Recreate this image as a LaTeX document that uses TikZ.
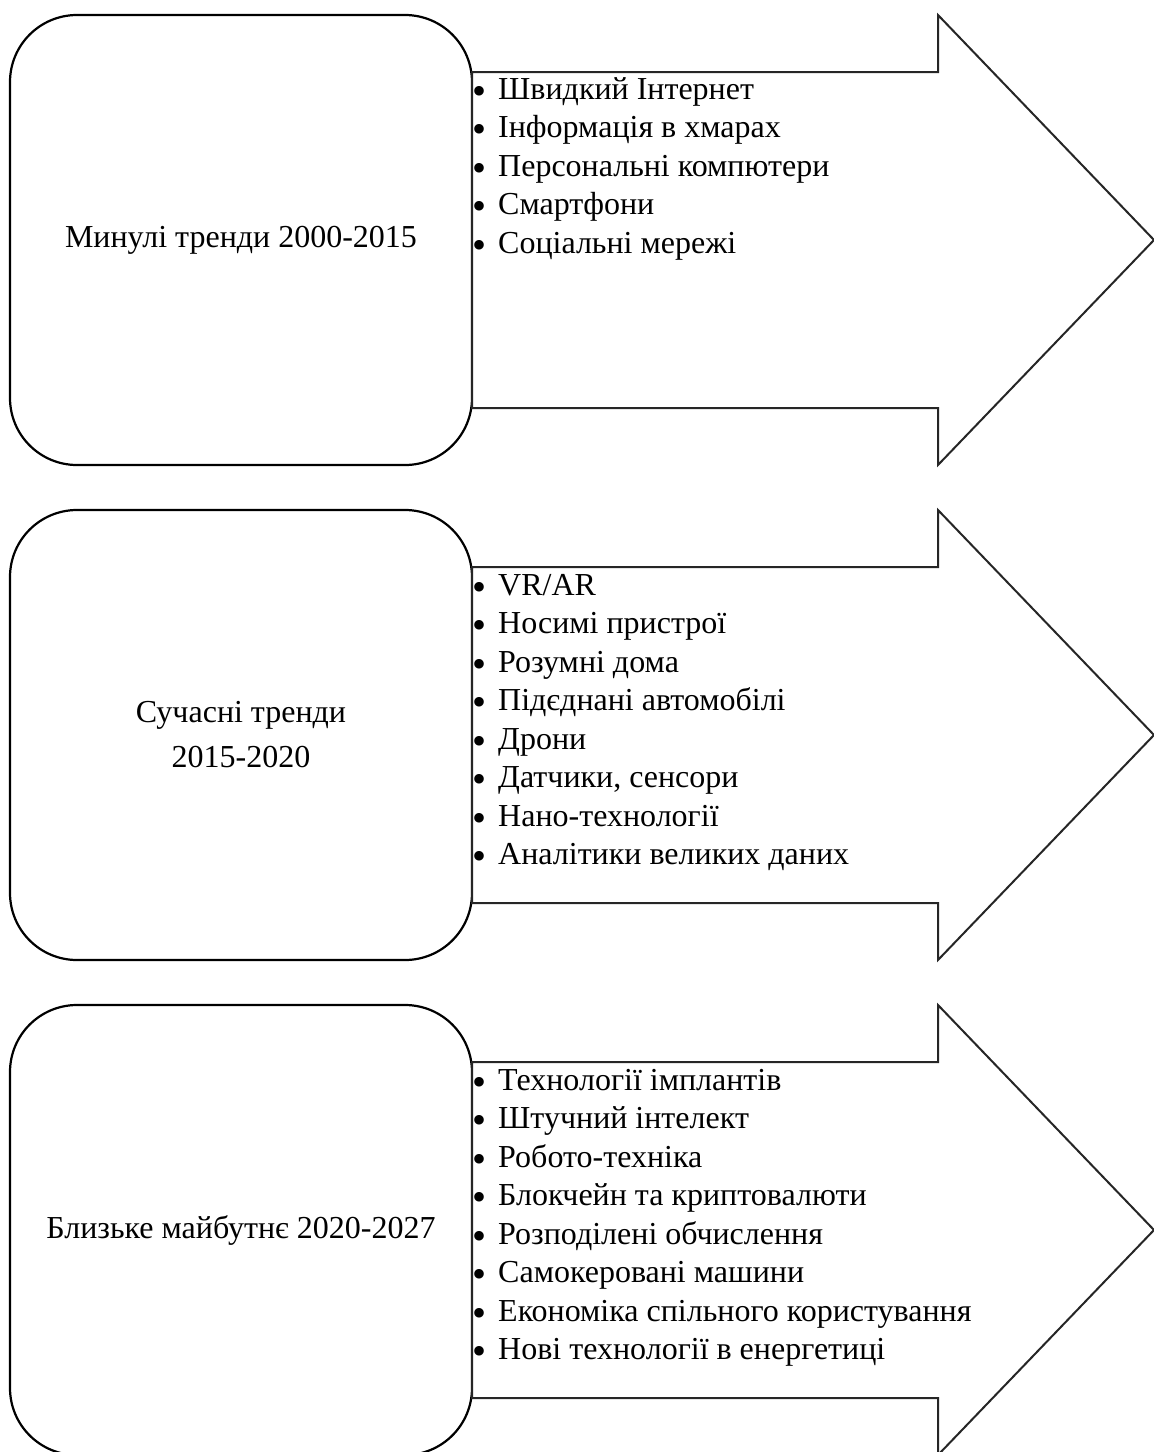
\documentclass[tikz,border=0pt]{standalone}
\usepackage{fontspec}
\setmainfont{Liberation Serif}
\newcommand{\bul}{\makebox[26pt][l]{\smash{\raisebox{-5pt}{\scalebox{1.25}{\textbullet}}}}}
\begin{document}
\begin{tikzpicture}[x=1pt, y=-1pt,
        period/.style={draw, rounded corners=67pt, line width=2.2pt, fill=white,
            minimum width=462pt, minimum height=450pt, align=center,
            font=\fontsize{32}{45}\selectfont},
        trendarrow/.style={draw=black!85, line width=2pt, fill=white},
        items/.style={anchor=north west, align=left, inner sep=0pt,
            font=\fontsize{32}{38.5}\selectfont}]
        \useasboundingbox (0,0) rectangle (1154,1452);

        \node[period] (past) at (241, 240) {Минулі тренди 2000-2015};
        \node[period] (now) at (241, 735) {Сучасні тренди\\2015-2020};
        \node[period] (next) at (241, 1230) {Близьке майбутнє 2020-2027};

        \draw[trendarrow] (472,72) -- (938,72) -- (938,15) -- (1154,240)
            -- (938,465) -- (938,408) -- (472,408) -- cycle;
        \draw[trendarrow] (472,567) -- (938,567) -- (938,510) -- (1154,735)
            -- (938,960) -- (938,903) -- (472,903) -- cycle;
        \draw[trendarrow] (472,1062) -- (938,1062) -- (938,1005) -- (1154,1230)
            -- (938,1455) -- (938,1398) -- (472,1398) -- cycle;

        \node[items] (pastlist) at (472, 72) {\rule{0pt}{27pt}\bul Швидкий Інтернет\\
            \bul Інформація в хмарах\\
            \bul Персональні компютери\\
            \bul Смартфони\\
            \bul Соціальні мережі};
        \node[items] (nowlist) at (472, 567) {\rule{0pt}{28pt}\bul VR/AR\\
            \bul Носимі пристрої\\
            \bul Розумні дома\\
            \bul Підєднані автомобілі\\
            \bul Дрони\\
            \bul Датчики, сенсори\\
            \bul Нано-технології\\
            \bul Аналітики великих даних};
        \node[items] (nextlist) at (472, 1062) {\rule{0pt}{28pt}\bul Технології імплантів\\
            \bul Штучний інтелект\\
            \bul Робото-техніка\\
            \bul Блокчейн та криптовалюти\\
            \bul Розподілені обчислення\\
            \bul Самокеровані машини\\
            \bul Економіка спільного користування\\
            \bul Нові технології в енергетиці};
    \end{tikzpicture}
\end{document}
